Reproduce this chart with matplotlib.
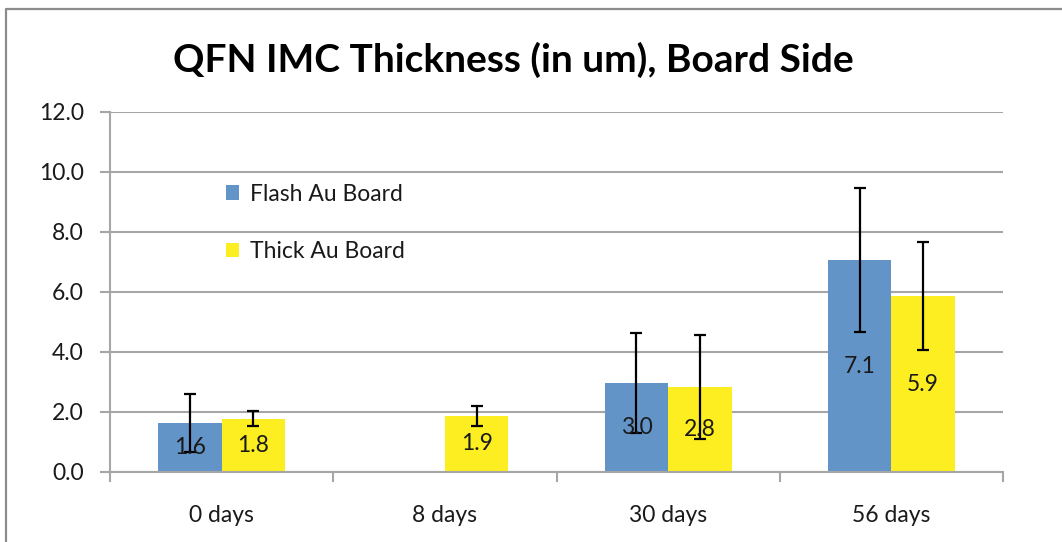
import numpy as np
import matplotlib
matplotlib.use("Agg")
import matplotlib.pyplot as plt
from matplotlib.patches import Patch
from matplotlib.lines import Line2D

plt.rcParams['font.family'] = ['Lato', 'DejaVu Sans']

categories = ["0 days", "8 days", "30 days", "56 days"]
flash_vals = [1.64, np.nan, 2.96, 7.06]
flash_err = [0.97, np.nan, 1.66, 2.40]
thick_vals = [1.78, 1.87, 2.84, 5.86]
thick_err = [0.24, 0.33, 1.73, 1.80]
series_names = ["Flash Au Board", "Thick Au Board"]
title = "QFN IMC Thickness (in um), Board Side"
yticks = [0, 2, 4, 6, 8, 10, 12]

blue = "#6394C8"
yellow = "#FCEE21"
grid_c = "#A6A6A6"
txt_c = "#1a1a1a"

fig = plt.figure(figsize=(10.62, 5.42), dpi=100)
ax = fig.add_axes([110/1062, 1-472/542, (1003-110)/1062, (472-112)/542])

x = np.arange(len(categories))
w = 0.284
fs = 16.5

ax.bar(x - w/2, flash_vals, w, color=blue, zorder=2)
ax.bar(x + w/2, thick_vals, w, color=yellow, zorder=2)
ax.errorbar(x - w/2, flash_vals, yerr=flash_err, fmt='none', ecolor='black',
            elinewidth=1.6, capsize=4.5, capthick=1.6, zorder=3)
ax.errorbar(x + w/2, thick_vals, yerr=thick_err, fmt='none', ecolor='black',
            elinewidth=1.6, capsize=4.5, capthick=1.6, zorder=3)

for xs, vals in ((x - w/2, flash_vals), (x + w/2, thick_vals)):
    for xi, v in zip(xs, vals):
        if np.isnan(v):
            continue
        ax.text(xi, v/2, f"{v:.1f}", ha='center', va='center', fontsize=fs,
                color=txt_c, zorder=4)

ax.set_xlim(-0.5, len(categories) - 0.5)
ax.set_ylim(0, 12)
ax.set_yticks(yticks)
ax.set_yticklabels([f"{t:.1f}" for t in yticks], fontsize=fs, color=txt_c)
ax.yaxis.grid(True, color=grid_c, linewidth=1.5, zorder=0)
ax.set_axisbelow(True)

ax.set_xticks(np.arange(len(categories) + 1) - 0.5)
ax.set_xticklabels([])
ax.set_xticks(x, minor=True)
ax.set_xticklabels(categories, minor=True, fontsize=fs, color=txt_c)
ax.tick_params(axis='x', which='major', length=7, width=1.5, color=grid_c)
ax.tick_params(axis='x', which='minor', length=0, pad=24)
ax.tick_params(axis='y', length=7, width=1.5, color=grid_c, pad=12)

for s in ('top', 'right'):
    ax.spines[s].set_visible(False)
for s in ('left', 'bottom'):
    ax.spines[s].set_color(grid_c)
    ax.spines[s].set_linewidth(1.5)

handles = [Patch(facecolor=blue, edgecolor='none'),
           Patch(facecolor=yellow, edgecolor='none')]
ax.legend(handles, series_names, loc='upper left',
          bbox_to_anchor=(95/893, 1 - 51/360), frameon=False,
          fontsize=fs, handlelength=0.6, handleheight=0.6,
          handletextpad=0.45, labelspacing=1.6, labelcolor=txt_c)

fig.text(513/1062, 1 - 60/542, title, ha='center', va='center',
         fontsize=28, fontweight='bold', color='black')

fig.add_artist(Line2D([6/1062, 6/1062, 1.0], [0.0, 1 - 9/542, 1 - 9/542],
                      transform=fig.transFigure, color='#8c8c8c', linewidth=1.6))

fig.savefig("out.png", dpi=100)
